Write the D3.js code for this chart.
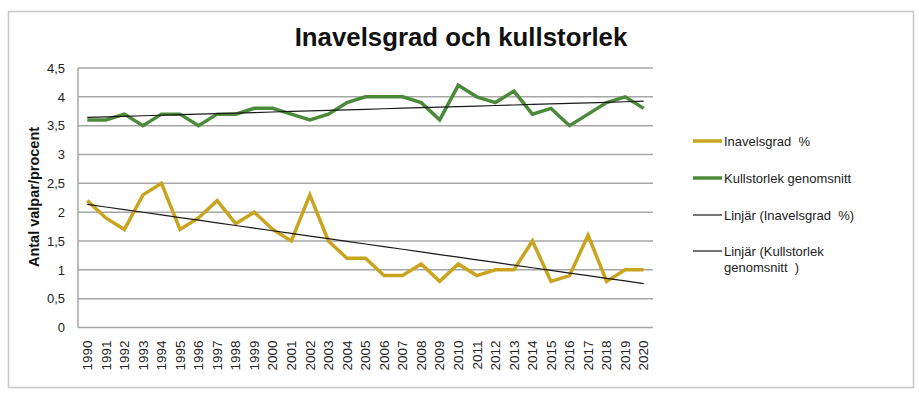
<!DOCTYPE html>
<html>
<head>
<meta charset="utf-8">
<script src="https://cdn.jsdelivr.net/npm/d3@7"></script>
<style>
  body { margin: 0; background: #fff; }
  text { font-family: "Liberation Sans", Arial, sans-serif; }
</style>
</head>
<body>
<script>
// Data
const years = d3.range(1990, 2021).map(String);
const inavelsgrad = [2.2, 1.9, 1.7, 2.3, 2.5, 1.7, 1.9, 2.2, 1.8, 2.0, 1.7, 1.5, 2.3, 1.5, 1.2, 1.2, 0.9, 0.9, 1.1, 0.8, 1.1, 0.9, 1.0, 1.0, 1.5, 0.8, 0.9, 1.6, 0.8, 1.0, 1.0];
const kullstorlek = [3.6, 3.6, 3.7, 3.5, 3.7, 3.7, 3.5, 3.7, 3.7, 3.8, 3.8, 3.7, 3.6, 3.7, 3.9, 4.0, 4.0, 4.0, 3.9, 3.6, 4.2, 4.0, 3.9, 4.1, 3.7, 3.8, 3.5, 3.7, 3.9, 4.0, 3.8];
const yTicks = [0, 0.5, 1, 1.5, 2, 2.5, 3, 3.5, 4, 4.5];

const width = 919, height = 399;
const gold = "#c9a41e", green = "#4b8a3a";

const svg = d3.select("body").append("svg")
    .attr("width", width)
    .attr("height", height);

// outer frame
svg.append("rect")
    .attr("x", 8.5).attr("y", 11.5)
    .attr("width", 905).attr("height", 376)
    .attr("fill", "#fff")
    .attr("stroke", "#c8c8c8")
    .attr("stroke-width", 1.5);

const x = d3.scaleBand().domain(years).range([78, 653]);
const y = d3.scaleLinear().domain([0, 4.5]).range([327.5, 68]);
const cx = d => x(d) + x.bandwidth() / 2;

// gridlines
svg.append("g")
    .selectAll("line")
    .data(yTicks)
    .join("line")
    .attr("x1", 78).attr("x2", 653)
    .attr("y1", d => y(d)).attr("y2", d => y(d))
    .attr("stroke", "#a6a6a6")
    .attr("stroke-width", 1.5);

// left axis line
svg.append("line")
    .attr("x1", 78).attr("x2", 78)
    .attr("y1", y(4.5)).attr("y2", y(0))
    .attr("stroke", "#a6a6a6")
    .attr("stroke-width", 1.5);

// y axis labels
const fmt = d => String(d).replace(".", ",");
const yAxis = svg.append("g")
    .attr("transform", "translate(78,0)")
    .call(d3.axisLeft(y).tickValues(yTicks).tickFormat(fmt).tickSize(0).tickPadding(13));
yAxis.select(".domain").remove();
yAxis.selectAll("text")
    .attr("font-size", 13)
    .attr("fill", "#222")
    .style("font-family", "Liberation Sans, Arial, sans-serif");

// x axis labels, rotated
const xAxis = svg.append("g")
    .attr("transform", `translate(0,${y(0)})`)
    .call(d3.axisBottom(x).tickSize(0).tickPadding(0));
xAxis.select(".domain").remove();
xAxis.selectAll("text")
    .attr("font-size", 13.5)
    .attr("fill", "#222")
    .style("font-family", "Liberation Sans, Arial, sans-serif")
    .attr("text-anchor", "end")
    .attr("dy", "0.35em")
    .attr("transform", "translate(0,13) rotate(-90)")
    .attr("x", 0).attr("y", 0);

// series lines
const line = d3.line().x((d, i) => cx(years[i])).y(d => y(d));

svg.append("path")
    .datum(kullstorlek)
    .attr("fill", "none")
    .attr("stroke", green)
    .attr("stroke-width", 3.5)
    .attr("d", line);

svg.append("path")
    .datum(inavelsgrad)
    .attr("fill", "none")
    .attr("stroke", gold)
    .attr("stroke-width", 3.5)
    .attr("d", line);

// linear trend lines (least squares, like Excel's "Linjär")
function trend(vals) {
    const xs = vals.map((d, i) => i + 1);
    const mx = d3.mean(xs), my = d3.mean(vals);
    const b = d3.sum(xs, (xi, i) => (xi - mx) * (vals[i] - my)) / d3.sum(xs, xi => (xi - mx) ** 2);
    const a = my - b * mx;
    return xs.map(xi => a + b * xi);
}

[inavelsgrad, kullstorlek].forEach(vals => {
    svg.append("path")
        .datum(trend(vals))
        .attr("fill", "none")
        .attr("stroke", "#1a1a1a")
        .attr("stroke-width", 1.2)
        .attr("d", line);
});

// title
svg.append("text")
    .attr("x", 461).attr("y", 46)
    .attr("text-anchor", "middle")
    .attr("font-size", 25.8)
    .attr("font-weight", "bold")
    .attr("fill", "#111")
    .text("Inavelsgrad och kullstorlek");

// y axis title
svg.append("text")
    .attr("transform", "translate(39,197) rotate(-90)")
    .attr("text-anchor", "middle")
    .attr("font-size", 14.5)
    .attr("font-weight", "bold")
    .attr("fill", "#111")
    .text("Antal valpar/procent");

// legend
const legendRows = [
    { label: ["Inavelsgrad  %"], color: gold, w: 3.5, y: 141 },
    { label: ["Kullstorlek genomsnitt"], color: green, w: 3.5, y: 178 },
    { label: ["Linjär (Inavelsgrad  %)"], color: "#1a1a1a", w: 1.2, y: 215 },
    { label: ["Linjär (Kullstorlek", "genomsnitt  )"], color: "#1a1a1a", w: 1.2, y: 251 }
];

const legend = svg.append("g");
legendRows.forEach(r => {
    legend.append("line")
        .attr("x1", 693).attr("x2", 722)
        .attr("y1", r.y).attr("y2", r.y)
        .attr("stroke", r.color)
        .attr("stroke-width", r.w);
    const t = legend.append("text")
        .attr("x", 724).attr("y", r.y)
        .attr("font-size", 13)
        .attr("fill", "#222");
    r.label.forEach((s, i) => {
        t.append("tspan")
            .attr("x", 724)
            .attr("dy", i === 0 ? "0.35em" : "1.25em")
            .style("white-space", "pre")
            .text(s);
    });
});
</script>
</body>
</html>
